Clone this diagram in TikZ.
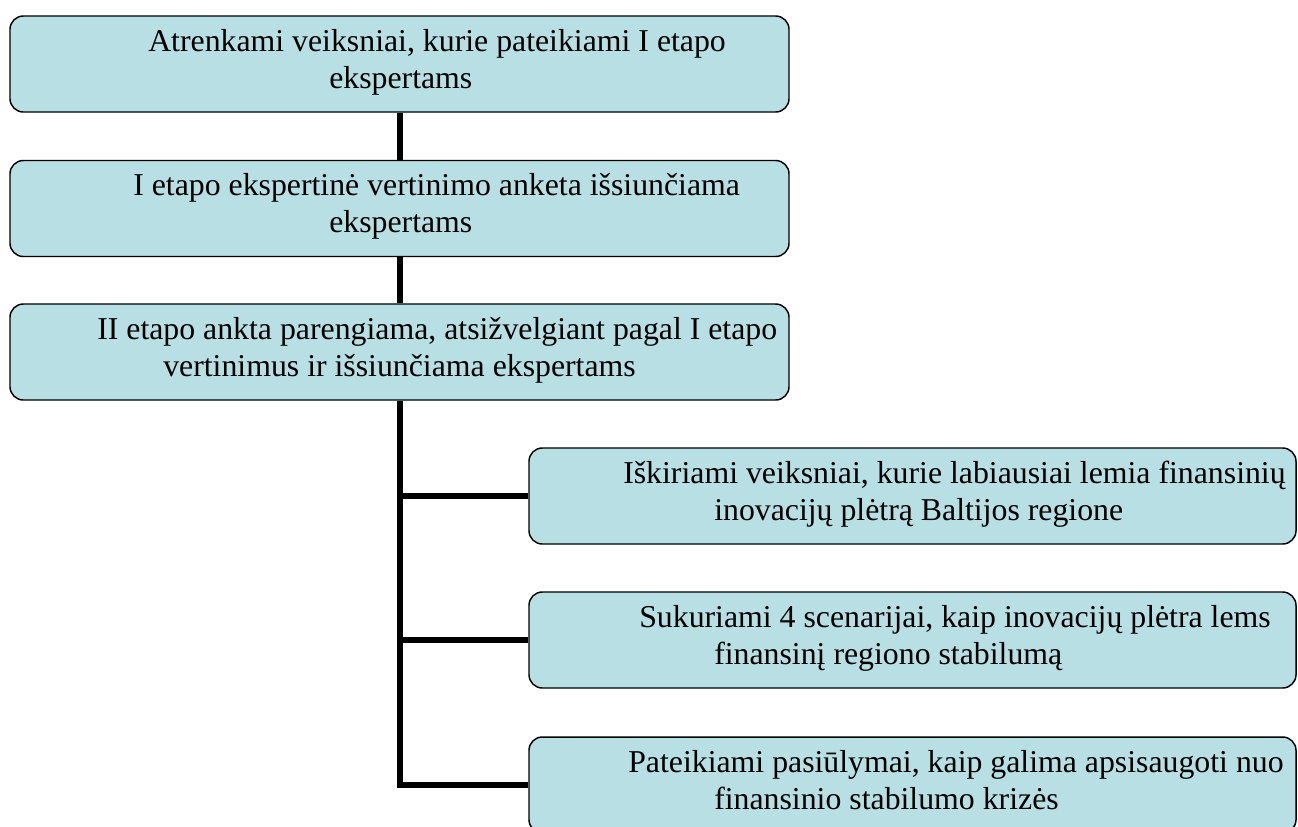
\documentclass[tikz,border=0pt]{standalone}
\usepackage{fontspec}
\setmainfont{Liberation Serif}
\definecolor{boxfill}{RGB}{184,223,227}
\begin{document}
\begin{tikzpicture}[x=0.75pt,y=-0.75pt,
  stage/.style={draw=black,line width=1.1pt,fill=boxfill,rounded corners=10pt,
    rectangle,inner sep=0pt},
  wide/.style={stage,minimum width=584.25pt,minimum height=72pt},
  side/.style={stage,minimum width=575.25pt,minimum height=72pt},
  txt/.style={anchor=base west,inner sep=0pt,font=\fontsize{23.85pt}{27.4pt}\selectfont},
  conn/.style={line width=4pt,black}]
\useasboundingbox (0,0) rectangle (1298,826);

% main chain of stages
\node[wide] (b1) at (399.5,64) {};
\node[wide] (b2) at (399.5,208.5) {};
\node[wide] (b3) at (399.5,352) {};

% results
\node[side] (b4) at (912.5,496) {};
\node[side] (b5) at (912.5,640) {};
\node[side] (b6) at (912.5,785) {};

% labels
\node[txt] (t1a) at (148,51.5) {Atrenkami veiksniai, kurie pateikiami I etapo};
\node[txt] (t1b) at (329,88) {ekspertams};
\node[txt] (t2a) at (133,195.5) {I etapo ekspertinė vertinimo anketa išsiunčiama};
\node[txt] (t2b) at (329,232) {ekspertams};
\node[txt] (t3a) at (97,339.5) {II etapo ankta parengiama, atsižvelgiant pagal I etapo};
\node[txt] (t3b) at (163,376) {vertinimus ir išsiunčiama ekspertams};
\node[txt] (t4a) at (623,483.5) {Iškiriami veiksniai, kurie labiausiai lemia finansinių};
\node[txt] (t4b) at (714,520) {inovacijų plėtrą Baltijos regione};
\node[txt] (t5a) at (639,627.5) {Sukuriami 4 scenarijai, kaip inovacijų plėtra lems};
\node[txt] (t5b) at (714,664) {finansinį regiono stabilumą};
\node[txt] (t6a) at (628,772.5) {Pateikiami pasiūlymai, kaip galima apsisaugoti nuo};
\node[txt] (t6b) at (714,809) {finansinio stabilumo krizės};

% spine and branches
\coordinate (sp) at (400,0);
\draw[conn] (b1.south -| sp) -- (b2.north -| sp);
\draw[conn] (b2.south -| sp) -- (b3.north -| sp);
\draw[conn] (b3.south -| sp) |- (b6.west);
\draw[conn] (b4.west -| sp) -- (b4.west);
\draw[conn] (b5.west -| sp) -- (b5.west);
\end{tikzpicture}
\end{document}
